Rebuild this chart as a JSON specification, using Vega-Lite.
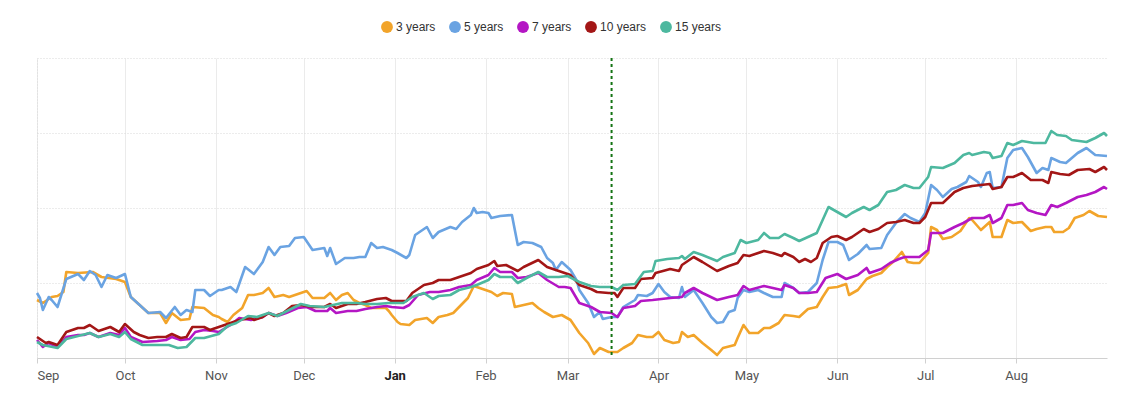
{
"$schema": "https://vega.github.io/schema/vega-lite/v6.json",
"width": 1070, "height": 300,
"autosize": "none",
"padding": {"left": 37, "top": 58, "right": 14, "bottom": 38},
"background": "white",
"config": {
 "view": {"stroke": null},
 "font": "Roboto",
 "legend": {"orient": "none", "legendX": 344, "legendY": -37, "direction": "horizontal", "symbolType": "circle", "symbolSize": 140, "symbolStrokeWidth": 0, "labelFont": "Liberation Sans", "labelFontSize": 12, "labelColor": "#333333", "columnPadding": 13, "labelOffset": 3, "padding": 0, "title": null}
},
"datasets": {
 "s3": [
  {"d":"2022-09-01","v":0.58},{"d":"2022-09-03","v":0.55},{"d":"2022-09-06","v":0.61},{"d":"2022-09-08","v":0.62},{"d":"2022-09-10","v":0.66},{"d":"2022-09-11","v":0.86},{"d":"2022-09-15","v":0.85},{"d":"2022-09-20","v":0.86},{"d":"2022-09-23","v":0.81},{"d":"2022-09-28","v":0.79},{"d":"2022-10-01","v":0.76},{"d":"2022-10-03","v":0.61},{"d":"2022-10-06","v":0.53},{"d":"2022-10-09","v":0.45},{"d":"2022-10-13","v":0.45},{"d":"2022-10-15","v":0.35},{"d":"2022-10-17","v":0.45},{"d":"2022-10-20","v":0.38},{"d":"2022-10-23","v":0.39},{"d":"2022-10-24","v":0.51},{"d":"2022-10-28","v":0.50},{"d":"2022-10-31","v":0.43},{"d":"2022-11-02","v":0.41},{"d":"2022-11-03","v":0.39},{"d":"2022-11-05","v":0.36},{"d":"2022-11-07","v":0.43},{"d":"2022-11-10","v":0.50},{"d":"2022-11-12","v":0.63},{"d":"2022-11-14","v":0.63},{"d":"2022-11-17","v":0.65},{"d":"2022-11-19","v":0.70},{"d":"2022-11-21","v":0.61},{"d":"2022-11-24","v":0.63},{"d":"2022-11-26","v":0.61},{"d":"2022-11-29","v":0.64},{"d":"2022-12-02","v":0.67},{"d":"2022-12-04","v":0.60},{"d":"2022-12-08","v":0.60},{"d":"2022-12-10","v":0.65},{"d":"2022-12-12","v":0.58},{"d":"2022-12-14","v":0.63},{"d":"2022-12-16","v":0.65},{"d":"2022-12-18","v":0.58},{"d":"2022-12-20","v":0.55},{"d":"2022-12-22","v":0.53},{"d":"2022-12-24","v":0.50},{"d":"2022-12-27","v":0.50},{"d":"2022-12-29","v":0.50},{"d":"2022-12-30","v":0.47},{"d":"2022-12-31","v":0.43},{"d":"2023-01-02","v":0.36},{"d":"2023-01-03","v":0.34},{"d":"2023-01-06","v":0.33},{"d":"2023-01-08","v":0.38},{"d":"2023-01-12","v":0.40},{"d":"2023-01-14","v":0.35},{"d":"2023-01-16","v":0.41},{"d":"2023-01-19","v":0.43},{"d":"2023-01-21","v":0.45},{"d":"2023-01-23","v":0.51},{"d":"2023-01-26","v":0.60},{"d":"2023-01-28","v":0.72},{"d":"2023-01-31","v":0.69},{"d":"2023-02-03","v":0.66},{"d":"2023-02-05","v":0.62},{"d":"2023-02-07","v":0.65},{"d":"2023-02-10","v":0.64},{"d":"2023-02-11","v":0.51},{"d":"2023-02-14","v":0.53},{"d":"2023-02-17","v":0.55},{"d":"2023-02-19","v":0.50},{"d":"2023-02-21","v":0.46},{"d":"2023-02-24","v":0.41},{"d":"2023-02-27","v":0.43},{"d":"2023-03-02","v":0.38},{"d":"2023-03-05","v":0.25},{"d":"2023-03-08","v":0.15},{"d":"2023-03-10","v":0.04},{"d":"2023-03-12","v":0.10},{"d":"2023-03-15","v":0.06},{"d":"2023-03-18","v":0.06},{"d":"2023-03-20","v":0.10},{"d":"2023-03-23","v":0.15},{"d":"2023-03-25","v":0.23},{"d":"2023-03-28","v":0.21},{"d":"2023-03-30","v":0.21},{"d":"2023-04-01","v":0.26},{"d":"2023-04-03","v":0.18},{"d":"2023-04-06","v":0.15},{"d":"2023-04-08","v":0.16},{"d":"2023-04-09","v":0.26},{"d":"2023-04-11","v":0.21},{"d":"2023-04-13","v":0.23},{"d":"2023-04-16","v":0.15},{"d":"2023-04-19","v":0.08},{"d":"2023-04-21","v":0.03},{"d":"2023-04-23","v":0.10},{"d":"2023-04-27","v":0.13},{"d":"2023-04-28","v":0.20},{"d":"2023-04-30","v":0.33},{"d":"2023-05-02","v":0.25},{"d":"2023-05-05","v":0.25},{"d":"2023-05-07","v":0.30},{"d":"2023-05-09","v":0.30},{"d":"2023-05-12","v":0.35},{"d":"2023-05-14","v":0.43},{"d":"2023-05-17","v":0.42},{"d":"2023-05-19","v":0.41},{"d":"2023-05-22","v":0.49},{"d":"2023-05-25","v":0.51},{"d":"2023-05-27","v":0.61},{"d":"2023-05-29","v":0.70},{"d":"2023-06-01","v":0.71},{"d":"2023-06-04","v":0.74},{"d":"2023-06-05","v":0.63},{"d":"2023-06-08","v":0.68},{"d":"2023-06-11","v":0.79},{"d":"2023-06-13","v":0.82},{"d":"2023-06-16","v":0.85},{"d":"2023-06-18","v":0.91},{"d":"2023-06-20","v":0.96},{"d":"2023-06-23","v":1.06},{"d":"2023-06-25","v":0.96},{"d":"2023-06-27","v":0.95},{"d":"2023-06-29","v":0.95},{"d":"2023-07-02","v":1.05},{"d":"2023-07-03","v":1.31},{"d":"2023-07-05","v":1.28},{"d":"2023-07-07","v":1.19},{"d":"2023-07-10","v":1.21},{"d":"2023-07-13","v":1.27},{"d":"2023-07-16","v":1.40},{"d":"2023-07-17","v":1.38},{"d":"2023-07-20","v":1.28},{"d":"2023-07-23","v":1.36},{"d":"2023-07-24","v":1.21},{"d":"2023-07-27","v":1.21},{"d":"2023-07-29","v":1.38},{"d":"2023-07-31","v":1.35},{"d":"2023-08-03","v":1.36},{"d":"2023-08-06","v":1.27},{"d":"2023-08-08","v":1.29},{"d":"2023-08-11","v":1.31},{"d":"2023-08-13","v":1.31},{"d":"2023-08-14","v":1.26},{"d":"2023-08-17","v":1.26},{"d":"2023-08-19","v":1.30},{"d":"2023-08-21","v":1.40},{"d":"2023-08-24","v":1.43},{"d":"2023-08-26","v":1.47},{"d":"2023-08-29","v":1.42},{"d":"2023-09-01","v":1.41}
 ],
 "s5": [
  {"d":"2022-09-01","v":0.65},{"d":"2022-09-02","v":0.60},{"d":"2022-09-03","v":0.48},{"d":"2022-09-05","v":0.61},{"d":"2022-09-06","v":0.58},{"d":"2022-09-08","v":0.51},{"d":"2022-09-11","v":0.79},{"d":"2022-09-15","v":0.84},{"d":"2022-09-17","v":0.78},{"d":"2022-09-19","v":0.87},{"d":"2022-09-21","v":0.83},{"d":"2022-09-23","v":0.71},{"d":"2022-09-25","v":0.83},{"d":"2022-09-28","v":0.80},{"d":"2022-10-01","v":0.84},{"d":"2022-10-03","v":0.61},{"d":"2022-10-06","v":0.53},{"d":"2022-10-09","v":0.45},{"d":"2022-10-13","v":0.46},{"d":"2022-10-15","v":0.40},{"d":"2022-10-18","v":0.51},{"d":"2022-10-20","v":0.43},{"d":"2022-10-22","v":0.48},{"d":"2022-10-24","v":0.46},{"d":"2022-10-25","v":0.68},{"d":"2022-10-28","v":0.68},{"d":"2022-10-30","v":0.62},{"d":"2022-11-02","v":0.68},{"d":"2022-11-03","v":0.68},{"d":"2022-11-06","v":0.71},{"d":"2022-11-08","v":0.66},{"d":"2022-11-11","v":0.91},{"d":"2022-11-14","v":0.84},{"d":"2022-11-17","v":0.96},{"d":"2022-11-19","v":1.11},{"d":"2022-11-21","v":1.03},{"d":"2022-11-23","v":1.11},{"d":"2022-11-26","v":1.12},{"d":"2022-11-28","v":1.20},{"d":"2022-12-01","v":1.21},{"d":"2022-12-04","v":1.08},{"d":"2022-12-08","v":1.10},{"d":"2022-12-09","v":1.02},{"d":"2022-12-10","v":1.10},{"d":"2022-12-12","v":0.94},{"d":"2022-12-15","v":1.00},{"d":"2022-12-18","v":1.00},{"d":"2022-12-20","v":1.01},{"d":"2022-12-22","v":1.01},{"d":"2022-12-24","v":1.15},{"d":"2022-12-26","v":1.10},{"d":"2022-12-28","v":1.11},{"d":"2022-12-31","v":1.08},{"d":"2023-01-02","v":1.05},{"d":"2023-01-05","v":1.00},{"d":"2023-01-06","v":1.03},{"d":"2023-01-08","v":1.23},{"d":"2023-01-12","v":1.31},{"d":"2023-01-14","v":1.20},{"d":"2023-01-16","v":1.26},{"d":"2023-01-20","v":1.31},{"d":"2023-01-22","v":1.29},{"d":"2023-01-24","v":1.36},{"d":"2023-01-27","v":1.43},{"d":"2023-01-28","v":1.50},{"d":"2023-01-29","v":1.45},{"d":"2023-01-31","v":1.46},{"d":"2023-02-02","v":1.45},{"d":"2023-02-03","v":1.40},{"d":"2023-02-06","v":1.42},{"d":"2023-02-10","v":1.43},{"d":"2023-02-12","v":1.13},{"d":"2023-02-14","v":1.16},{"d":"2023-02-17","v":1.15},{"d":"2023-02-20","v":1.11},{"d":"2023-02-22","v":1.00},{"d":"2023-02-24","v":0.95},{"d":"2023-02-25","v":0.88},{"d":"2023-02-27","v":0.96},{"d":"2023-03-02","v":0.88},{"d":"2023-03-04","v":0.78},{"d":"2023-03-05","v":0.68},{"d":"2023-03-08","v":0.55},{"d":"2023-03-10","v":0.41},{"d":"2023-03-12","v":0.46},{"d":"2023-03-13","v":0.39},{"d":"2023-03-16","v":0.41},{"d":"2023-03-18","v":0.41},{"d":"2023-03-20","v":0.51},{"d":"2023-03-24","v":0.58},{"d":"2023-03-25","v":0.63},{"d":"2023-03-28","v":0.62},{"d":"2023-03-30","v":0.65},{"d":"2023-04-01","v":0.74},{"d":"2023-04-03","v":0.66},{"d":"2023-04-05","v":0.61},{"d":"2023-04-08","v":0.60},{"d":"2023-04-09","v":0.71},{"d":"2023-04-10","v":0.61},{"d":"2023-04-13","v":0.68},{"d":"2023-04-16","v":0.55},{"d":"2023-04-19","v":0.41},{"d":"2023-04-21","v":0.35},{"d":"2023-04-23","v":0.36},{"d":"2023-04-25","v":0.46},{"d":"2023-04-27","v":0.48},{"d":"2023-04-28","v":0.60},{"d":"2023-04-30","v":0.68},{"d":"2023-05-02","v":0.66},{"d":"2023-05-05","v":0.68},{"d":"2023-05-07","v":0.65},{"d":"2023-05-10","v":0.61},{"d":"2023-05-13","v":0.61},{"d":"2023-05-14","v":0.75},{"d":"2023-05-17","v":0.70},{"d":"2023-05-19","v":0.65},{"d":"2023-05-22","v":0.66},{"d":"2023-05-25","v":0.75},{"d":"2023-05-27","v":0.98},{"d":"2023-05-29","v":1.16},{"d":"2023-06-01","v":1.16},{"d":"2023-06-03","v":1.13},{"d":"2023-06-05","v":0.98},{"d":"2023-06-08","v":1.04},{"d":"2023-06-11","v":1.13},{"d":"2023-06-12","v":1.09},{"d":"2023-06-16","v":1.10},{"d":"2023-06-18","v":1.23},{"d":"2023-06-21","v":1.35},{"d":"2023-06-24","v":1.44},{"d":"2023-06-26","v":1.40},{"d":"2023-06-29","v":1.36},{"d":"2023-07-01","v":1.45},{"d":"2023-07-03","v":1.73},{"d":"2023-07-05","v":1.68},{"d":"2023-07-07","v":1.61},{"d":"2023-07-10","v":1.69},{"d":"2023-07-12","v":1.71},{"d":"2023-07-15","v":1.76},{"d":"2023-07-16","v":1.82},{"d":"2023-07-19","v":1.76},{"d":"2023-07-20","v":1.71},{"d":"2023-07-22","v":1.85},{"d":"2023-07-23","v":1.86},{"d":"2023-07-24","v":1.70},{"d":"2023-07-27","v":1.71},{"d":"2023-07-29","v":2.00},{"d":"2023-07-31","v":2.08},{"d":"2023-08-03","v":2.10},{"d":"2023-08-05","v":2.01},{"d":"2023-08-08","v":1.85},{"d":"2023-08-10","v":1.90},{"d":"2023-08-12","v":1.88},{"d":"2023-08-13","v":2.00},{"d":"2023-08-16","v":1.96},{"d":"2023-08-18","v":1.95},{"d":"2023-08-22","v":2.05},{"d":"2023-08-25","v":2.10},{"d":"2023-08-28","v":2.03},{"d":"2023-09-01","v":2.02}
 ],
 "s7": [
  {"d":"2022-09-01","v":0.18},{"d":"2022-09-03","v":0.11},{"d":"2022-09-05","v":0.15},{"d":"2022-09-08","v":0.11},{"d":"2022-09-11","v":0.21},{"d":"2022-09-15","v":0.23},{"d":"2022-09-17","v":0.23},{"d":"2022-09-19","v":0.25},{"d":"2022-09-22","v":0.21},{"d":"2022-09-26","v":0.25},{"d":"2022-09-29","v":0.23},{"d":"2022-10-01","v":0.30},{"d":"2022-10-03","v":0.21},{"d":"2022-10-07","v":0.16},{"d":"2022-10-12","v":0.17},{"d":"2022-10-15","v":0.18},{"d":"2022-10-17","v":0.21},{"d":"2022-10-20","v":0.18},{"d":"2022-10-23","v":0.19},{"d":"2022-10-25","v":0.26},{"d":"2022-10-28","v":0.28},{"d":"2022-10-31","v":0.27},{"d":"2022-11-02","v":0.26},{"d":"2022-11-06","v":0.33},{"d":"2022-11-09","v":0.40},{"d":"2022-11-13","v":0.38},{"d":"2022-11-17","v":0.41},{"d":"2022-11-19","v":0.45},{"d":"2022-11-22","v":0.42},{"d":"2022-11-25","v":0.45},{"d":"2022-11-29","v":0.50},{"d":"2022-12-02","v":0.51},{"d":"2022-12-05","v":0.47},{"d":"2022-12-09","v":0.47},{"d":"2022-12-10","v":0.50},{"d":"2022-12-12","v":0.45},{"d":"2022-12-16","v":0.47},{"d":"2022-12-19","v":0.47},{"d":"2022-12-22","v":0.49},{"d":"2022-12-26","v":0.51},{"d":"2022-12-29","v":0.52},{"d":"2022-12-31","v":0.51},{"d":"2023-01-04","v":0.50},{"d":"2023-01-06","v":0.53},{"d":"2023-01-09","v":0.63},{"d":"2023-01-13","v":0.66},{"d":"2023-01-16","v":0.66},{"d":"2023-01-20","v":0.68},{"d":"2023-01-23","v":0.71},{"d":"2023-01-27","v":0.73},{"d":"2023-01-29","v":0.78},{"d":"2023-02-02","v":0.83},{"d":"2023-02-04","v":0.90},{"d":"2023-02-06","v":0.86},{"d":"2023-02-10","v":0.86},{"d":"2023-02-12","v":0.80},{"d":"2023-02-15","v":0.81},{"d":"2023-02-19","v":0.85},{"d":"2023-02-22","v":0.78},{"d":"2023-02-26","v":0.71},{"d":"2023-02-28","v":0.71},{"d":"2023-03-02","v":0.70},{"d":"2023-03-05","v":0.55},{"d":"2023-03-09","v":0.51},{"d":"2023-03-12","v":0.46},{"d":"2023-03-16","v":0.45},{"d":"2023-03-18","v":0.41},{"d":"2023-03-20","v":0.50},{"d":"2023-03-24","v":0.52},{"d":"2023-03-26","v":0.57},{"d":"2023-03-30","v":0.58},{"d":"2023-04-02","v":0.59},{"d":"2023-04-05","v":0.60},{"d":"2023-04-09","v":0.61},{"d":"2023-04-10","v":0.65},{"d":"2023-04-13","v":0.70},{"d":"2023-04-16","v":0.65},{"d":"2023-04-21","v":0.58},{"d":"2023-04-25","v":0.61},{"d":"2023-04-28","v":0.63},{"d":"2023-04-30","v":0.72},{"d":"2023-05-02","v":0.68},{"d":"2023-05-07","v":0.72},{"d":"2023-05-10","v":0.70},{"d":"2023-05-13","v":0.68},{"d":"2023-05-14","v":0.73},{"d":"2023-05-17","v":0.70},{"d":"2023-05-19","v":0.65},{"d":"2023-05-22","v":0.65},{"d":"2023-05-25","v":0.66},{"d":"2023-05-28","v":0.80},{"d":"2023-06-01","v":0.84},{"d":"2023-06-04","v":0.79},{"d":"2023-06-08","v":0.83},{"d":"2023-06-11","v":0.90},{"d":"2023-06-12","v":0.85},{"d":"2023-06-16","v":0.89},{"d":"2023-06-19","v":0.95},{"d":"2023-06-22","v":0.99},{"d":"2023-06-24","v":1.01},{"d":"2023-06-27","v":1.01},{"d":"2023-06-29","v":1.01},{"d":"2023-07-02","v":1.08},{"d":"2023-07-03","v":1.25},{"d":"2023-07-07","v":1.25},{"d":"2023-07-11","v":1.31},{"d":"2023-07-14","v":1.35},{"d":"2023-07-17","v":1.40},{"d":"2023-07-21","v":1.40},{"d":"2023-07-23","v":1.43},{"d":"2023-07-24","v":1.35},{"d":"2023-07-27","v":1.40},{"d":"2023-07-29","v":1.53},{"d":"2023-07-31","v":1.53},{"d":"2023-08-03","v":1.55},{"d":"2023-08-05","v":1.48},{"d":"2023-08-08","v":1.45},{"d":"2023-08-11","v":1.43},{"d":"2023-08-13","v":1.53},{"d":"2023-08-15","v":1.51},{"d":"2023-08-18","v":1.55},{"d":"2023-08-22","v":1.61},{"d":"2023-08-25","v":1.63},{"d":"2023-08-28","v":1.66},{"d":"2023-08-31","v":1.71},{"d":"2023-09-01","v":1.69}
 ],
 "s10": [
  {"d":"2022-09-01","v":0.21},{"d":"2022-09-02","v":0.19},{"d":"2022-09-04","v":0.15},{"d":"2022-09-05","v":0.16},{"d":"2022-09-08","v":0.13},{"d":"2022-09-11","v":0.26},{"d":"2022-09-15","v":0.30},{"d":"2022-09-17","v":0.30},{"d":"2022-09-19","v":0.33},{"d":"2022-09-22","v":0.27},{"d":"2022-09-26","v":0.31},{"d":"2022-09-29","v":0.26},{"d":"2022-10-01","v":0.34},{"d":"2022-10-04","v":0.26},{"d":"2022-10-06","v":0.23},{"d":"2022-10-09","v":0.20},{"d":"2022-10-12","v":0.21},{"d":"2022-10-15","v":0.21},{"d":"2022-10-17","v":0.24},{"d":"2022-10-20","v":0.20},{"d":"2022-10-22","v":0.21},{"d":"2022-10-24","v":0.31},{"d":"2022-10-28","v":0.31},{"d":"2022-10-30","v":0.28},{"d":"2022-11-02","v":0.31},{"d":"2022-11-06","v":0.35},{"d":"2022-11-09","v":0.38},{"d":"2022-11-13","v":0.40},{"d":"2022-11-14","v":0.38},{"d":"2022-11-17","v":0.41},{"d":"2022-11-19","v":0.45},{"d":"2022-11-21","v":0.42},{"d":"2022-11-24","v":0.45},{"d":"2022-11-27","v":0.52},{"d":"2022-11-30","v":0.53},{"d":"2022-12-04","v":0.51},{"d":"2022-12-08","v":0.51},{"d":"2022-12-10","v":0.54},{"d":"2022-12-12","v":0.50},{"d":"2022-12-16","v":0.54},{"d":"2022-12-19","v":0.54},{"d":"2022-12-22","v":0.56},{"d":"2022-12-26","v":0.59},{"d":"2022-12-29","v":0.60},{"d":"2022-12-31","v":0.57},{"d":"2023-01-05","v":0.57},{"d":"2023-01-07","v":0.65},{"d":"2023-01-11","v":0.73},{"d":"2023-01-14","v":0.75},{"d":"2023-01-16","v":0.78},{"d":"2023-01-20","v":0.78},{"d":"2023-01-23","v":0.81},{"d":"2023-01-27","v":0.85},{"d":"2023-01-29","v":0.89},{"d":"2023-02-02","v":0.93},{"d":"2023-02-04","v":0.97},{"d":"2023-02-05","v":0.92},{"d":"2023-02-08","v":0.93},{"d":"2023-02-12","v":0.87},{"d":"2023-02-14","v":0.91},{"d":"2023-02-19","v":0.98},{"d":"2023-02-22","v":0.91},{"d":"2023-02-26","v":0.87},{"d":"2023-03-02","v":0.83},{"d":"2023-03-05","v":0.73},{"d":"2023-03-09","v":0.69},{"d":"2023-03-11","v":0.66},{"d":"2023-03-15","v":0.65},{"d":"2023-03-17","v":0.65},{"d":"2023-03-18","v":0.61},{"d":"2023-03-20","v":0.70},{"d":"2023-03-24","v":0.70},{"d":"2023-03-26","v":0.79},{"d":"2023-03-30","v":0.80},{"d":"2023-03-31","v":0.85},{"d":"2023-04-05","v":0.89},{"d":"2023-04-08","v":0.87},{"d":"2023-04-09","v":0.93},{"d":"2023-04-13","v":1.01},{"d":"2023-04-16","v":0.96},{"d":"2023-04-21","v":0.87},{"d":"2023-04-25","v":0.92},{"d":"2023-04-28","v":0.95},{"d":"2023-04-30","v":1.03},{"d":"2023-05-02","v":1.02},{"d":"2023-05-07","v":1.07},{"d":"2023-05-10","v":1.05},{"d":"2023-05-13","v":1.02},{"d":"2023-05-14","v":1.05},{"d":"2023-05-17","v":1.01},{"d":"2023-05-19","v":0.96},{"d":"2023-05-21","v":0.99},{"d":"2023-05-23","v":0.96},{"d":"2023-05-25","v":1.00},{"d":"2023-05-27","v":1.15},{"d":"2023-05-30","v":1.21},{"d":"2023-06-01","v":1.22},{"d":"2023-06-04","v":1.18},{"d":"2023-06-06","v":1.21},{"d":"2023-06-10","v":1.29},{"d":"2023-06-12","v":1.26},{"d":"2023-06-15","v":1.29},{"d":"2023-06-18","v":1.35},{"d":"2023-06-21","v":1.36},{"d":"2023-06-24","v":1.38},{"d":"2023-06-27","v":1.35},{"d":"2023-06-29","v":1.35},{"d":"2023-07-01","v":1.41},{"d":"2023-07-03","v":1.55},{"d":"2023-07-07","v":1.55},{"d":"2023-07-11","v":1.66},{"d":"2023-07-14","v":1.70},{"d":"2023-07-17","v":1.72},{"d":"2023-07-23","v":1.74},{"d":"2023-07-24","v":1.69},{"d":"2023-07-27","v":1.71},{"d":"2023-07-29","v":1.81},{"d":"2023-07-31","v":1.81},{"d":"2023-08-03","v":1.85},{"d":"2023-08-06","v":1.78},{"d":"2023-08-10","v":1.78},{"d":"2023-08-12","v":1.75},{"d":"2023-08-13","v":1.86},{"d":"2023-08-16","v":1.84},{"d":"2023-08-19","v":1.83},{"d":"2023-08-22","v":1.88},{"d":"2023-08-26","v":1.89},{"d":"2023-08-28","v":1.86},{"d":"2023-08-31","v":1.91},{"d":"2023-09-01","v":1.88}
 ],
 "s15": [
  {"d":"2022-09-01","v":0.16},{"d":"2022-09-03","v":0.13},{"d":"2022-09-08","v":0.10},{"d":"2022-09-11","v":0.19},{"d":"2022-09-15","v":0.22},{"d":"2022-09-19","v":0.25},{"d":"2022-09-22","v":0.21},{"d":"2022-09-26","v":0.24},{"d":"2022-09-29","v":0.21},{"d":"2022-10-01","v":0.26},{"d":"2022-10-03","v":0.19},{"d":"2022-10-07","v":0.13},{"d":"2022-10-12","v":0.13},{"d":"2022-10-16","v":0.13},{"d":"2022-10-19","v":0.10},{"d":"2022-10-22","v":0.11},{"d":"2022-10-25","v":0.20},{"d":"2022-10-28","v":0.20},{"d":"2022-11-02","v":0.24},{"d":"2022-11-05","v":0.32},{"d":"2022-11-08","v":0.35},{"d":"2022-11-12","v":0.42},{"d":"2022-11-15","v":0.41},{"d":"2022-11-19","v":0.45},{"d":"2022-11-22","v":0.42},{"d":"2022-11-26","v":0.48},{"d":"2022-11-30","v":0.54},{"d":"2022-12-03","v":0.52},{"d":"2022-12-08","v":0.51},{"d":"2022-12-11","v":0.53},{"d":"2022-12-14","v":0.55},{"d":"2022-12-19","v":0.55},{"d":"2022-12-22","v":0.54},{"d":"2022-12-26","v":0.54},{"d":"2022-12-30","v":0.55},{"d":"2023-01-04","v":0.55},{"d":"2023-01-07","v":0.61},{"d":"2023-01-11","v":0.65},{"d":"2023-01-14","v":0.59},{"d":"2023-01-16","v":0.62},{"d":"2023-01-20","v":0.63},{"d":"2023-01-23","v":0.68},{"d":"2023-01-27","v":0.71},{"d":"2023-01-29","v":0.73},{"d":"2023-02-02","v":0.78},{"d":"2023-02-04","v":0.84},{"d":"2023-02-06","v":0.81},{"d":"2023-02-10","v":0.81},{"d":"2023-02-12","v":0.75},{"d":"2023-02-15","v":0.80},{"d":"2023-02-19","v":0.86},{"d":"2023-02-22","v":0.81},{"d":"2023-02-26","v":0.81},{"d":"2023-03-01","v":0.82},{"d":"2023-03-05","v":0.76},{"d":"2023-03-09","v":0.72},{"d":"2023-03-12","v":0.71},{"d":"2023-03-16","v":0.71},{"d":"2023-03-18","v":0.68},{"d":"2023-03-20","v":0.73},{"d":"2023-03-24","v":0.74},{"d":"2023-03-27","v":0.86},{"d":"2023-03-30","v":0.87},{"d":"2023-03-31","v":0.97},{"d":"2023-04-04","v":0.99},{"d":"2023-04-08","v":1.00},{"d":"2023-04-09","v":1.02},{"d":"2023-04-10","v":0.99},{"d":"2023-04-13","v":1.06},{"d":"2023-04-16","v":1.03},{"d":"2023-04-21","v":0.97},{"d":"2023-04-23","v":1.01},{"d":"2023-04-27","v":1.05},{"d":"2023-04-29","v":1.18},{"d":"2023-05-01","v":1.15},{"d":"2023-05-05","v":1.18},{"d":"2023-05-07","v":1.25},{"d":"2023-05-09","v":1.20},{"d":"2023-05-12","v":1.20},{"d":"2023-05-14","v":1.24},{"d":"2023-05-17","v":1.20},{"d":"2023-05-19","v":1.17},{"d":"2023-05-22","v":1.21},{"d":"2023-05-25","v":1.25},{"d":"2023-05-27","v":1.38},{"d":"2023-05-29","v":1.51},{"d":"2023-06-01","v":1.46},{"d":"2023-06-04","v":1.41},{"d":"2023-06-06","v":1.45},{"d":"2023-06-10","v":1.51},{"d":"2023-06-12","v":1.48},{"d":"2023-06-15","v":1.53},{"d":"2023-06-18","v":1.66},{"d":"2023-06-21","v":1.68},{"d":"2023-06-24","v":1.73},{"d":"2023-06-27","v":1.70},{"d":"2023-06-29","v":1.70},{"d":"2023-07-02","v":1.81},{"d":"2023-07-03","v":1.91},{"d":"2023-07-07","v":1.90},{"d":"2023-07-11","v":1.95},{"d":"2023-07-14","v":2.03},{"d":"2023-07-16","v":2.05},{"d":"2023-07-17","v":2.03},{"d":"2023-07-21","v":2.06},{"d":"2023-07-23","v":2.05},{"d":"2023-07-24","v":2.00},{"d":"2023-07-27","v":2.02},{"d":"2023-07-29","v":2.15},{"d":"2023-07-31","v":2.13},{"d":"2023-08-03","v":2.17},{"d":"2023-08-07","v":2.15},{"d":"2023-08-11","v":2.15},{"d":"2023-08-13","v":2.27},{"d":"2023-08-15","v":2.23},{"d":"2023-08-18","v":2.22},{"d":"2023-08-20","v":2.18},{"d":"2023-08-25","v":2.16},{"d":"2023-08-28","v":2.20},{"d":"2023-08-31","v":2.25},{"d":"2023-09-01","v":2.22}
 ]
},
"encoding": {
 "x": {"field": "d", "type": "temporal",
  "scale": {"type": "utc", "domain": [{"year": 2022, "month": 9, "date": 1, "utc": true}, {"year": 2023, "month": 9, "date": 1, "utc": true}]},
  "axis": {"title": null, "labelExpr": "utcFormat(datum.value, '%b')",
   "values": [{"year":2022,"month":9,"date":1,"utc":true},{"year":2022,"month":10,"date":1,"utc":true},{"year":2022,"month":11,"date":1,"utc":true},{"year":2022,"month":12,"date":1,"utc":true},{"year":2023,"month":1,"date":1,"utc":true},{"year":2023,"month":2,"date":1,"utc":true},{"year":2023,"month":3,"date":1,"utc":true},{"year":2023,"month":4,"date":1,"utc":true},{"year":2023,"month":5,"date":1,"utc":true},{"year":2023,"month":6,"date":1,"utc":true},{"year":2023,"month":7,"date":1,"utc":true},{"year":2023,"month":8,"date":1,"utc":true}],
   "grid": true, "gridColor": "#ebebeb", "gridWidth": 1,
   "domainColor": "#d0d0d0", "tickColor": "#d0d0d0", "tickSize": 5,
   "labelFont": "Roboto", "labelFontSize": 13, "labelPadding": 6,
   "labelColor": {"condition": {"test": "utcmonth(datum.value) === 0", "value": "#222222"}, "value": "#555555"},
   "labelFontWeight": {"condition": {"test": "utcmonth(datum.value) === 0", "value": "bold"}, "value": "normal"}}}
},
"layer": [
 {"data": {"name": "s3"}, "mark": {"type": "line", "strokeWidth": 2.6, "strokeJoin": "round"},
  "encoding": {
   "y": {"field": "v", "type": "quantitative", "scale": {"domain": [0, 3], "nice": false, "zero": true},
    "axis": {"title": null, "labels": false, "ticks": false, "values": [0, 0.75, 1.5, 2.25, 3], "grid": true, "gridColor": "#d8d8d8", "gridDash": [1, 2], "domain": true, "domainColor": "#d8d8d8", "domainDash": [1, 2]}},
   "color": {"datum": "3 years", "type": "nominal",
    "scale": {"domain": ["3 years", "5 years", "7 years", "10 years", "15 years"], "range": ["#f2a42a", "#6aa3e2", "#b416c4", "#a31616", "#4db89f"]},
    "legend": {"encode": {"symbols": {"update": {"fill": {"scale": "color", "field": "value"}, "stroke": {"value": "transparent"}}}}}}}},
 {"data": {"name": "s5"}, "mark": {"type": "line", "strokeWidth": 2.6, "strokeJoin": "round"},
  "encoding": {"y": {"field": "v", "type": "quantitative"}, "color": {"datum": "5 years", "type": "nominal"}}},
 {"data": {"name": "s7"}, "mark": {"type": "line", "strokeWidth": 2.6, "strokeJoin": "round"},
  "encoding": {"y": {"field": "v", "type": "quantitative"}, "color": {"datum": "7 years", "type": "nominal"}}},
 {"data": {"name": "s10"}, "mark": {"type": "line", "strokeWidth": 2.6, "strokeJoin": "round"},
  "encoding": {"y": {"field": "v", "type": "quantitative"}, "color": {"datum": "10 years", "type": "nominal"}}},
 {"data": {"name": "s15"}, "mark": {"type": "line", "strokeWidth": 2.6, "strokeJoin": "round"},
  "encoding": {"y": {"field": "v", "type": "quantitative"}, "color": {"datum": "15 years", "type": "nominal"}}},
 {"data": {"values": [{"d": "2023-03-16"}]}, "mark": {"type": "rule", "color": "#137313", "strokeDash": [3, 3], "strokeWidth": 2}}
]
}
